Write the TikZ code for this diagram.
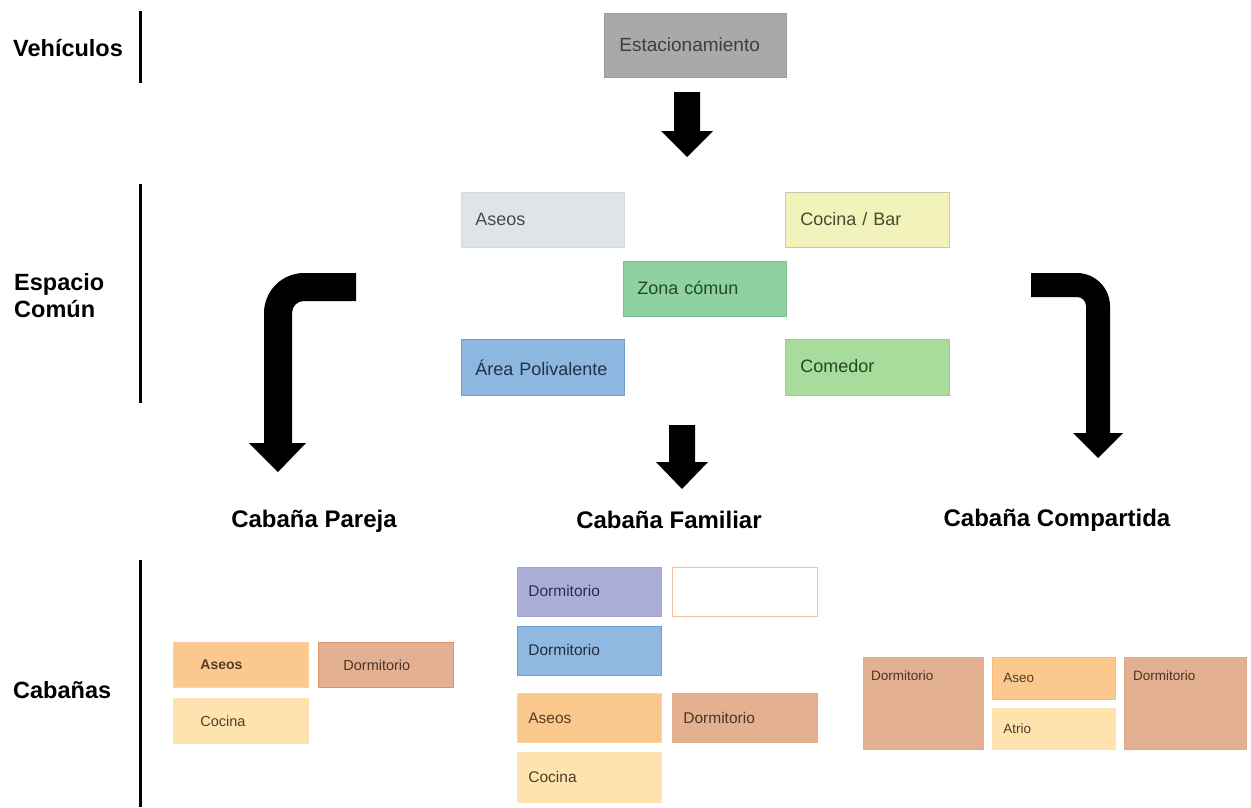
\documentclass[tikz,border=0pt]{standalone}
\usepackage{fontspec}
\setmainfont{Liberation Sans}
\definecolor{estF}{HTML}{A9A9A9}\definecolor{estD}{HTML}{9A9A9A}\definecolor{estT}{HTML}{3E3E3E}
\definecolor{aseF}{HTML}{DFE4E9}\definecolor{aseD}{HTML}{D4D9DF}\definecolor{aseT}{HTML}{434B56}
\definecolor{cocF}{HTML}{F2F3BA}\definecolor{cocD}{HTML}{C9C9B0}\definecolor{cocT}{HTML}{4A4A30}
\definecolor{zonF}{HTML}{8FD1A0}\definecolor{zonD}{HTML}{7CBF8C}\definecolor{zonT}{HTML}{234A28}
\definecolor{areF}{HTML}{8DB6E0}\definecolor{areD}{HTML}{6B9FD0}\definecolor{areT}{HTML}{22324A}
\definecolor{comF}{HTML}{A7DC9C}\definecolor{comD}{HTML}{97CF8C}\definecolor{comT}{HTML}{274520}
\definecolor{orF}{HTML}{FBC98E}\definecolor{orD}{HTML}{FCD3A2}\definecolor{orT}{HTML}{553C22}
\definecolor{brF}{HTML}{E3B091}\definecolor{brD}{HTML}{DA9468}\definecolor{brT}{HTML}{4A3426}
\definecolor{ltF}{HTML}{FEE3AE}\definecolor{ltD}{HTML}{FDE2B4}\definecolor{ltT}{HTML}{4A3E28}
\definecolor{puF}{HTML}{ABAED6}\definecolor{puD}{HTML}{A0A4D2}\definecolor{puT}{HTML}{2A3048}
\definecolor{blF}{HTML}{8FB9E1}\definecolor{blD}{HTML}{6AA0D2}\definecolor{blT}{HTML}{222E44}
\definecolor{emD}{HTML}{F0C4A6}
\tikzset{
  bx/.style={anchor=north west, rectangle, inner ysep=0pt, align=left, line width=0.8pt},
  csp/.style={bx, font=\fontsize{18}{21}\selectfont},
  cab/.style={bx, font=\fontsize{14.5}{17}\selectfont},
  fam/.style={bx, font=\fontsize{15.5}{18}\selectfont},
  cmp/.style={bx, font=\fontsize{13.5}{16}\selectfont},
  side/.style={anchor=west, font=\bfseries\fontsize{23.5}{27}\selectfont, align=left, inner sep=0pt},
  head/.style={font=\bfseries\fontsize{24}{28}\selectfont, inner sep=0pt},
  sep/.style={line width=3pt},
  blk/.style={fill=black}
}
\newcommand{\up}[1]{\raisebox{2pt}{#1}}
\begin{document}
\begin{tikzpicture}[x=1pt,y=-1pt]
\path[use as bounding box, fill=white] (0,0) rectangle (1251,807);

% side labels and separators
\node[side] (lveh) at (13,48) {Vehículos};
\node[side] (lesp) at (14,296) {Espacio\\Común};
\node[side] (lcab) at (13,690) {Cabañas};
\draw[sep] (140,11) -- (140,83);
\draw[sep] (140,184) -- (140,403);
\draw[sep] (140,560) -- (140,807);

% parking
\node[csp, font=\fontsize{19}{22}\selectfont, fill=estF, draw=estD, text=estT, inner xsep=15pt, text width=152pt, minimum height=64pt] (est) at (604,13) {\up{Estacionamiento}};

% common space
\node[csp, fill=aseF, draw=aseD, text=aseT, inner xsep=14pt, text width=135pt, minimum height=55pt] (aseC) at (461,192) {\up{Aseos}};
\node[csp, fill=cocF, draw=cocD, text=cocT, inner xsep=15pt, text width=134pt, minimum height=55pt] (cocC) at (785,192) {\up{Cocina / Bar}};
\node[csp, fill=zonF, draw=zonD, text=zonT, inner xsep=14pt, text width=135pt, minimum height=55pt] (zon) at (623,261) {\up{Zona cómun}};
\node[csp, fill=areF, draw=areD, text=areT, inner xsep=14pt, text width=135pt, minimum height=56pt] (are) at (461,339) {Área Polivalente};
\node[csp, fill=comF, draw=comD, text=comT, inner xsep=15pt, text width=134pt, minimum height=56pt] (com) at (785,339) {\raisebox{3pt}{Comedor}};

% headings
\node[head] (hpar) at (314,521) {Cabaña Pareja};
\node[head] (hfam) at (669,520) {Cabaña Familiar};
\node[head] (hcom) at (1057,520) {Cabaña Compartida};

% block arrows
\fill[blk] (674,92) -- (700,92) -- (700,131) -- (713,131) -- (687,157) -- (661,131) -- (674,131) -- cycle;
\fill[blk] (669,425) -- (695,425) -- (695,462) -- (708,462) -- (682,489) -- (656,462) -- (669,462) -- cycle;
\fill[blk] (356,273) -- (304,273) .. controls (282,273) and (264,291) .. (264,313)
  -- (264,443) -- (249,443) -- (278,472) -- (306,443) -- (292,443) -- (292,313)
  .. controls (292,306) and (297.5,301) .. (304,301) -- (356,301) -- cycle;
\fill[blk] (1031,273) -- (1077,273) .. controls (1095,273) and (1110,288) .. (1110,306)
  -- (1110,433) -- (1123,433) -- (1098,458) -- (1073,433) -- (1086,433) -- (1086,306)
  .. controls (1086,301) and (1082,297) .. (1077,297) -- (1031,297) -- cycle;

% Cabana Pareja
\node[cab, font=\bfseries\fontsize{14}{17}\selectfont, fill=orF, draw=orD, text=orT, inner xsep=27pt, text width=81pt, minimum height=45pt] (pA) at (173,642) {Aseos};
\node[cab, fill=brF, draw=brD, text=brT, inner xsep=25pt, text width=85pt, minimum height=45pt] (pD) at (318,642) {Dormitorio};
\node[cab, fill=ltF, draw=ltD, text=ltT, inner xsep=27pt, text width=81pt, minimum height=45pt] (pC) at (173,698) {Cocina};

% Cabana Familiar
\node[fam, fill=puF, draw=puD, text=puT, inner xsep=11pt, text width=122pt, minimum height=49pt] (fD1) at (517,567) {\up{Dormitorio}};
\node[fam, fill=white, draw=emD, inner xsep=11pt, text width=123pt, minimum height=49pt] (fE) at (672,567) {};
\node[fam, fill=blF, draw=blD, text=blT, inner xsep=11pt, text width=122pt, minimum height=49pt] (fD2) at (517,626) {\up{Dormitorio}};
\node[fam, fill=orF, draw=orD, text=orT, inner xsep=11pt, text width=122pt, minimum height=49pt] (fA) at (517,693) {Aseos};
\node[fam, fill=brF, draw=brF!90!brD, text=brT, inner xsep=11pt, text width=123pt, minimum height=49pt] (fD3) at (672,693) {Dormitorio};
\node[fam, fill=ltF, draw=ltD, text=ltT, inner xsep=11pt, text width=122pt, minimum height=50pt] (fC) at (517,752) {Cocina};

% Cabana Compartida
\node[cmp, fill=brF, draw=brF!85!brD, minimum width=120pt, minimum height=92pt,
  label={[anchor=north west, inner sep=0pt, xshift=8pt, yshift=-14pt, font=\fontsize{13.5}{16}\selectfont, text=brT]north west:Dormitorio}] (cD1) at (863,657) {};
\node[cmp, fill=orF, draw=orF!80!orange, text=orT, inner xsep=11pt, text width=101pt, minimum height=42pt] (cA) at (992,657) {Aseo};
\node[cmp, fill=ltF, draw=ltD, text=ltT, inner xsep=11pt, text width=101pt, minimum height=41pt] (cAt) at (992,708) {Atrio};
\node[cmp, fill=brF, draw=brF!70!brD, minimum width=122pt, minimum height=92pt,
  label={[anchor=north west, inner sep=0pt, xshift=9pt, yshift=-14pt, font=\fontsize{13.5}{16}\selectfont, text=brT]north west:Dormitorio}] (cD2) at (1124,657) {};
\end{tikzpicture}
\end{document}
